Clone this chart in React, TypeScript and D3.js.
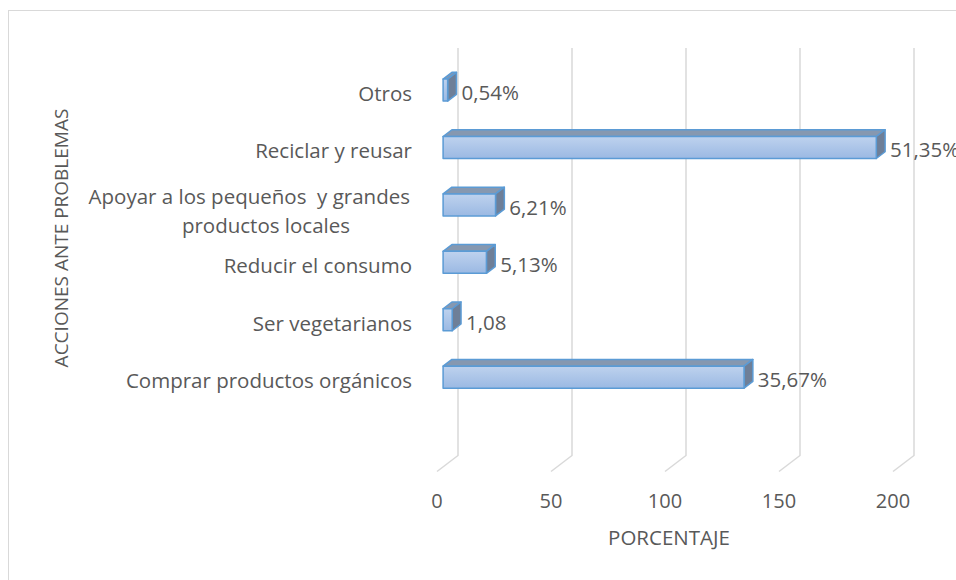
import React from 'react';
import * as d3 from 'd3';

// categories from bottom to top, as in the chart
const categories = [
  ["Comprar productos orgánicos"],
  ["Ser vegetarianos"],
  ["Reducir el consumo"],
  ["Apoyar a los pequeños  y grandes", "productos locales"],
  ["Reciclar y reusar"],
  ["Otros"],
];
const values = [132, 4, 19, 23, 190, 2];
const valueLabels = ["35,67%", "1,08", "5,13%", "6,21%", "51,35%", "0,54%"];
const xTicks = [0, 50, 100, 150, 200];

const width = 956;
const height = 580;
const font = "'Open Sans', 'Liberation Sans', sans-serif";
const textColor = "#595959";
const gridColor = "#d9d9d9";

// oblique depth of the floor (back -> front)
const depthX = -21;
const depthY = 16;
// bar front / back face as fraction of floor depth
const frontF = 0.71;
const backF = 0.29;

const App = () => {
  const x = d3.scaleLinear().domain([0, 200]).range([458, 914]);
  const keys = categories.map((_, i) => String(i));
  const y = d3.scaleBand()
    .domain([...keys].reverse())
    .range([50, 394.5])
    .paddingInner(0.617)
    .paddingOuter(0.3085);

  const gridTop = 48;
  const gridBottom = 455.5;
  const bh = y.bandwidth();
  const fdx = depthX * frontF, fdy = depthY * frontF;
  const ddx = depthX * (backF - frontF), ddy = depthY * (backF - frontF);

  return (
    <div style={{ position: "absolute", left: 0, top: 0 }}>
      <svg width={width} height={height} style={{ display: "block", fontFamily: font }}>
        <defs>
          <linearGradient id="barFront" x1="0" y1="0" x2="0" y2="1">
            <stop offset="0%" stopColor="#bed2ee" />
            <stop offset="100%" stopColor="#9bb9e3" />
          </linearGradient>
        </defs>
        <rect x={8.5} y={10.5} width={960} height={600} fill="#fff" stroke={gridColor} strokeWidth={1} />

        {/* grid on back wall + floor */}
        {xTicks.map(t => (
          <g key={t}>
            <polyline
              points={`${x(t)},${gridTop} ${x(t)},${gridBottom} ${x(t) + depthX},${gridBottom + depthY}`}
              fill="none" stroke={gridColor} strokeWidth={1.5} />
            <text x={x(t) + depthX} y={500} textAnchor="middle" dominantBaseline="central"
              fontSize={20} fill={textColor}>{t}</text>
          </g>
        ))}

        {/* bars */}
        {values.map((v, i) => {
          const fx0 = x(0) + fdx;
          const fx1 = x(v) + fdx;
          const fy0 = (y(String(i)) as number) + fdy;
          const cy = fy0 + bh / 2;
          return (
            <g key={i}>
              <polygon
                points={`${fx0},${fy0} ${fx1},${fy0} ${fx1 + ddx},${fy0 + ddy} ${fx0 + ddx},${fy0 + ddy}`}
                fill="#8698b0" stroke="#5b9bd5" strokeWidth={1.5} strokeLinejoin="round" />
              <polygon
                points={`${fx1},${fy0} ${fx1 + ddx},${fy0 + ddy} ${fx1 + ddx},${fy0 + ddy + bh} ${fx1},${fy0 + bh}`}
                fill="#6e7f98" stroke="#5b9bd5" strokeWidth={1.5} strokeLinejoin="round" />
              <rect x={fx0} y={fy0} width={fx1 - fx0} height={bh}
                fill="url(#barFront)" stroke="#5b9bd5" strokeWidth={1.5} strokeLinejoin="round" />
              <text x={fx1 + ddx + 5} y={cy + 2} dominantBaseline="central"
                fontSize={20.5} fill={textColor}>{valueLabels[i]}</text>
            </g>
          );
        })}

        {/* category labels */}
        {categories.map((lines, i) => {
          const cy = (y(String(i)) as number) + fdy + bh / 2 + 3;
          if (lines.length === 1) {
            return (
              <text key={i} x={412} y={cy} textAnchor="end" dominantBaseline="central"
                fontSize={20.5} fill={textColor} style={{ whiteSpace: "pre" }}>{lines[0]}</text>
            );
          }
          return (
            <g key={i}>
              <text x={410} y={cy - 12} textAnchor="end" dominantBaseline="central"
                fontSize={20.5} fill={textColor} style={{ whiteSpace: "pre" }}>{lines[0]}</text>
              <text x={266} y={cy + 17} textAnchor="middle" dominantBaseline="central"
                fontSize={20.5} fill={textColor}>{lines[1]}</text>
            </g>
          );
        })}

        {/* axis titles */}
        <text x={669} y={537} textAnchor="middle" dominantBaseline="central"
          fontSize={20.5} fill={textColor}>PORCENTAJE</text>
        <text transform="translate(61,238) rotate(-90)" textAnchor="middle" dominantBaseline="central"
          fontSize={19} fill={textColor}>ACCIONES ANTE PROBLEMAS</text>
      </svg>
    </div>
  );
};

export default App;
